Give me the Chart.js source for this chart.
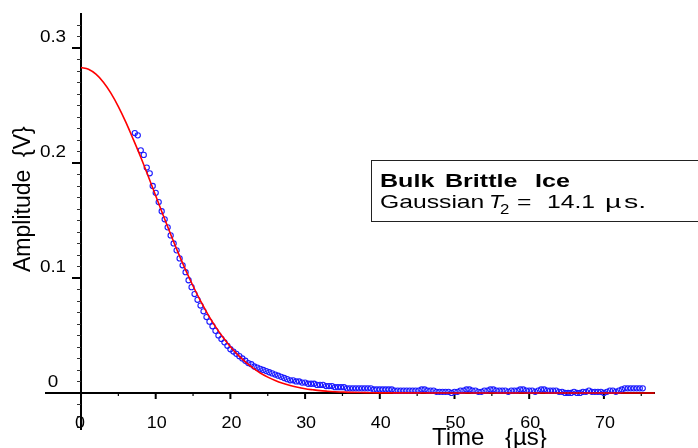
<!DOCTYPE html>
<html>
<head>
<meta charset="utf-8">
<script src="https://cdn.jsdelivr.net/npm/chart.js@4.4.1/dist/chart.umd.min.js"></script>
<style>
html,body{margin:0;padding:0;background:#fff;}
#c{display:block;}
</style>
</head>
<body>
<canvas id="c" width="698" height="448"></canvas>
<script>
// ---- data ----
const dataTimes = [
7.2,7.6,8.0,8.4,8.8,9.2,9.6,10.0,10.4,10.8,11.2,11.6,12.0,12.4,12.8,13.2,13.6,14.0,14.4,14.8,
15.2,15.6,16.0,16.4,16.8,17.2,17.6,18.0,18.4,18.8,19.2,19.6,20.0,20.4,20.8,21.2,21.6,22.0,22.4,22.8,
23.2,23.6,24.0,24.4,24.8,25.2,25.6,26.0,26.4,26.8,27.2,27.6,28.0,28.4,28.8,29.2,29.6,30.0,30.4,30.8,
31.2,31.6,32.0,32.4,32.8,33.2,33.6,34.0,34.4,34.8,35.2,35.6,36.0,36.4,36.8,37.2,37.6,38.0,38.4,38.8,
39.2,39.6,40.0,40.4,40.8,41.2,41.6,42.0,42.4,42.8,43.2,43.6,44.0,44.4,44.8,45.2,45.6,46.0,46.4,46.8,
47.2,47.6,48.0,48.4,48.8,49.2,49.6,50.0,50.4,50.8,51.2,51.6,52.0,52.4,52.8,53.2,53.6,54.0,54.4,54.8,
55.2,55.6,56.0,56.4,56.8,57.2,57.6,58.0,58.4,58.8,59.2,59.6,60.0,60.4,60.8,61.2,61.6,62.0,62.4,62.8,
63.2,63.6,64.0,64.4,64.8,65.2,65.6,66.0,66.4,66.8,67.2,67.6,68.0,68.4,68.8,69.2,69.6,70.0,70.4,70.8,
71.2,71.6,72.0,72.4,72.8,73.2,73.6,74.0,74.4,74.8,75.2
];
const dataAmps = [
0.226,0.224,0.211,0.207,0.196,0.191,0.180,0.174,0.166,0.158,0.151,0.144,0.137,0.130,0.124,0.117,0.111,0.105,0.098,0.092,
0.086,0.081,0.076,0.071,0.066,0.062,0.058,0.054,0.050,0.047,0.044,0.041,0.038,0.036,0.034,0.032,0.030,0.028,0.026,0.025,
0.023,0.022,0.021,0.020,0.019,0.018,0.017,0.016,0.015,0.014,0.013,0.012,0.011,0.011,0.010,0.010,0.009,0.009,0.008,0.008,
0.008,0.007,0.007,0.007,0.006,0.006,0.006,0.005,0.005,0.005,0.005,0.004,0.004,0.004,0.004,0.004,0.004,0.004,0.004,0.004,
0.003,0.003,0.003,0.003,0.003,0.003,0.003,0.002,0.002,0.002,0.002,0.002,0.002,0.002,0.002,0.002,0.003,0.003,0.002,0.002,
0.002,0.001,0.001,0.001,0.001,0.001,0.000,0.001,0.001,0.002,0.002,0.003,0.003,0.002,0.002,0.001,0.001,0.002,0.002,0.003,
0.003,0.002,0.002,0.002,0.002,0.001,0.002,0.002,0.002,0.003,0.003,0.002,0.002,0.002,0.001,0.002,0.003,0.003,0.002,0.002,
0.002,0.002,0.001,0.001,0.000,0.000,0.000,0.001,0.000,0.000,0.001,0.001,0.002,0.001,0.001,0.001,0.001,0.000,0.001,0.002,
0.002,0.001,0.002,0.003,0.004,0.004,0.004,0.004,0.004,0.004,0.004
];
// red Gaussian fit curve
const fitTimes = [0,1,2,3,4,5,6,7,8,9,10,11,12,13,14,15,16,17,18,19,20,21,22,23,24,25,26,27,28,29,30,31,32,33,34,35,36,38,40,50,60,70,76.8];
const fitAmps = [0.2830,0.2815,0.2772,0.2702,0.2607,0.2490,0.2355,0.2205,0.2050,0.1885,0.1715,0.1545,0.1380,0.1220,0.1070,0.0930,0.0800,0.0682,0.0577,0.0484,
0.0402,0.0331,0.0270,0.0218,0.0174,0.0138,0.0108,0.0084,0.0065,0.0049,0.0037,0.0028,0.0020,0.0015,0.0011,0.0008,0.0005,0.0003,0.0001,0,0,0,0];
const xTickValues = [0,10,20,30,40,50,60,70];
const xTickLabels = ["0","10","20","30","40","50","60","70"];
const yTickValues = [0,0.1,0.2,0.3];
const yTickLabels = ["0","0.1","0.2","0.3"];

const FONT = '"Liberation Sans", Arial, Helvetica, sans-serif';

function txt(ctx, s, x, y, font, align, sx, baseline) {
  ctx.save();
  ctx.font = font;
  ctx.textAlign = align || 'left';
  ctx.textBaseline = baseline || 'alphabetic';
  ctx.translate(x, y);
  ctx.scale(sx || 1, 1);
  ctx.fillStyle = '#000';
  ctx.fillText(s, 0, 0);
  ctx.restore();
}

const axesPlugin = {
  id: 'axesPlugin',
  beforeDatasetsDraw(chart) {
    const ctx = chart.ctx, xs = chart.scales.x, ys = chart.scales.y;
    const x0 = xs.getPixelForValue(0), y0 = ys.getPixelForValue(0);
    ctx.save();
    ctx.strokeStyle = '#000';
    ctx.lineWidth = 2;
    ctx.beginPath();
    ctx.moveTo(xs.left, y0); ctx.lineTo(xs.right, y0);
    ctx.moveTo(x0, ys.top); ctx.lineTo(x0, ys.bottom);
    ctx.stroke();
    // x major ticks
    ctx.beginPath();
    xTickValues.forEach(v => { const p = xs.getPixelForValue(v); ctx.moveTo(p, y0); ctx.lineTo(p, y0 + 6); });
    ctx.stroke();
    // x minor ticks
    ctx.lineWidth = 1.2;
    ctx.beginPath();
    for (let v = 5; v < 76; v += 10) { const p = xs.getPixelForValue(v); ctx.moveTo(p, y0); ctx.lineTo(p, y0 + 3); }
    ctx.stroke();
    // y major ticks
    ctx.lineWidth = 2;
    ctx.beginPath();
    yTickValues.forEach(v => { if (v === 0) return; const p = ys.getPixelForValue(v); ctx.moveTo(x0 - 9, p); ctx.lineTo(x0, p); });
    ctx.stroke();
    // y minor ticks
    ctx.lineWidth = 1;
    ctx.strokeStyle = '#333';
    ctx.beginPath();
    for (let k = -3; k <= 32; k++) {
      if (k % 10 === 0) continue;
      const p = Math.round(ys.getPixelForValue(k / 100)) + 0.5;
      ctx.moveTo(x0 - 4, p); ctx.lineTo(x0, p);
    }
    ctx.stroke();
    ctx.restore();
  },
  afterDraw(chart) {
    const ctx = chart.ctx, xs = chart.scales.x, ys = chart.scales.y;
    const y0 = ys.getPixelForValue(0);
    // y tick labels (drawn centred, slightly above the tick)
    yTickValues.forEach((v, i) => {
      txt(ctx, yTickLabels[i], 53, ys.getPixelForValue(v) - 10, '16px ' + FONT, 'center', 1.18, 'middle');
    });
    // x tick labels
    xTickValues.forEach((v, i) => {
      txt(ctx, xTickLabels[i], xs.getPixelForValue(v) + (v === 0 ? -1 : 1), y0 + 31, '16px ' + FONT, 'center', 1.12, 'middle');
    });
    // axis titles
    txt(ctx, 'Time', 432, 445, '24px ' + FONT, 'left', 1.0);
    txt(ctx, '{\u00b5s}', 505, 445, '24px ' + FONT, 'left', 1.0);
    ctx.save();
    ctx.translate(30, 272);
    ctx.rotate(-Math.PI / 2);
    ctx.font = '23px ' + FONT;
    ctx.fillStyle = '#000';
    ctx.textAlign = 'left';
    ctx.textBaseline = 'alphabetic';
    ctx.fillText('Amplitude  {V}', 0, 0);
    ctx.restore();
    // annotation box
    ctx.save();
    ctx.strokeStyle = '#222';
    ctx.lineWidth = 1;
    ctx.strokeRect(371.5, 160.5, 340, 61);
    ctx.restore();
    const B = 'bold 19px ' + FONT, R = '19px ' + FONT;
    txt(ctx, 'Bulk', 380, 187, B, 'left', 1.32);
    txt(ctx, 'Brittle', 445, 187, B, 'left', 1.32);
    txt(ctx, 'Ice', 535, 187, B, 'left', 1.32);
    txt(ctx, 'Gaussian', 380, 208, R, 'left', 1.3);
    txt(ctx, 'T', 489, 208, 'italic 19px ' + FONT, 'left', 1.2);
    txt(ctx, '2', 500, 214, '14px ' + FONT, 'left', 1.2);
    txt(ctx, '=', 517, 208, R, 'left', 1.3);
    txt(ctx, '14.1', 547, 208, R, 'left', 1.3);
    txt(ctx, '\u00b5', 605, 208, R, 'left', 1.5);
    txt(ctx, 's.', 624, 208, R, 'left', 1.5);
  }
};

new Chart(document.getElementById('c'), {
  type: 'scatter',
  data: {
    datasets: [
      {
        label: 'Gaussian fit',
        data: fitTimes.map((t, i) => ({ x: t, y: fitAmps[i] })),
        showLine: true,
        borderColor: '#ff0000',
        borderWidth: 1.6,
        pointRadius: 0,
        cubicInterpolationMode: 'monotone',
        fill: false
      },
      {
        label: 'Data',
        data: dataTimes.map((t, i) => ({ x: t, y: dataAmps[i] })),
        showLine: false,
        pointStyle: 'circle',
        pointRadius: 2.6,
        borderColor: '#1a1aff',
        backgroundColor: 'rgba(255,255,255,0)',
        borderWidth: 1.1
      }
    ]
  },
  options: {
    responsive: false,
    animation: false,
    devicePixelRatio: 1,
    layout: { padding: { left: 45, right: 43, top: 13, bottom: 18 } },
    plugins: { legend: { display: false }, tooltip: { enabled: false } },
    scales: {
      x: { type: 'linear', min: -4.82, max: 76.84, display: false },
      y: { type: 'linear', min: -0.0322, max: 0.3304, display: false }
    }
  },
  plugins: [axesPlugin]
});
</script>
</body>
</html>
